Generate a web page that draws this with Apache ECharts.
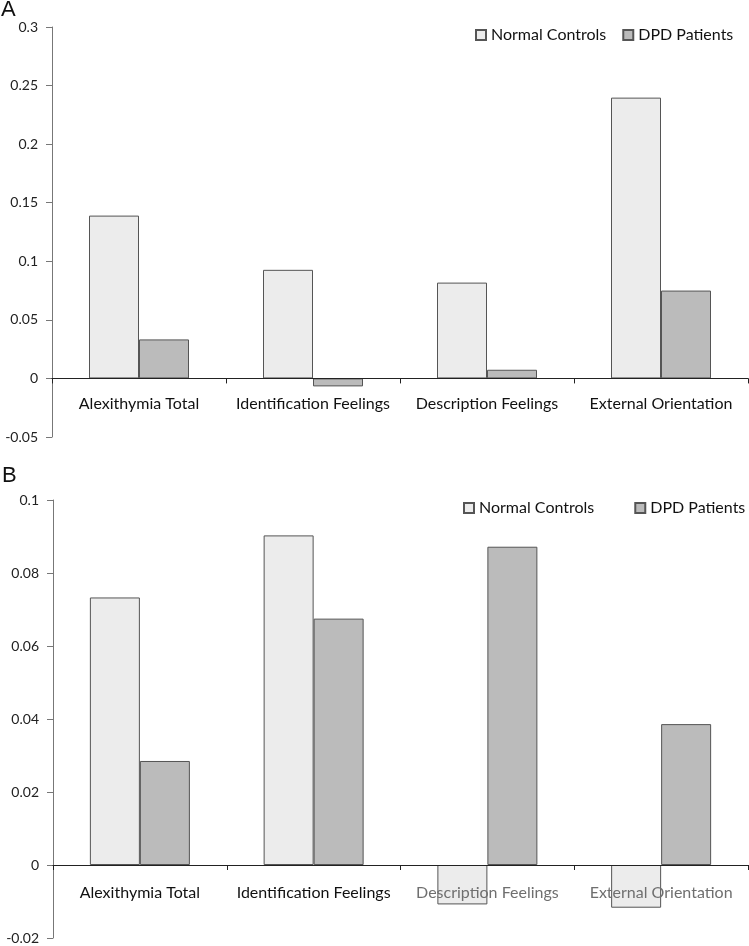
<!DOCTYPE html>
<html>
<head>
<meta charset="utf-8">
<script src="https://cdn.jsdelivr.net/npm/echarts@6/dist/echarts.min.js"></script>
<style>html,body{margin:0;padding:0;background:#fff}#c{width:749px;height:946px}</style>
</head>
<body>
<div id="c"></div>
<script>
const categories = ["Alexithymia Total", "Identification Feelings", "Description Feelings", "External Orientation"];
const seriesNames = ["Normal Controls", "DPD Patients"];
const panelA_NC = [0.139, 0.0927, 0.0818, 0.2397];
const panelA_DPD = [0.0333, -0.0068, 0.0074, 0.075];
const panelB_NC = [0.0733, 0.0903, -0.0108, -0.0117];
const panelB_DPD = [0.0285, 0.0675, 0.0872, 0.0386];
const yTicksA = { min: -0.05, max: 0.3, interval: 0.05 };
const yTicksB = { min: -0.02, max: 0.1, interval: 0.02 };
const greyLabelsB = ["Description Feelings", "External Orientation"];

const FONT = 'Lato';
const chart = echarts.init(document.getElementById('c'), null, { renderer: 'canvas' });

const gridA = { left: 52, right: 1, top: 27, height: 410 };
const gridB = { left: 53, right: 1, top: 500, height: 438 };
// offset of the x axis from grid bottom up to the zero line (pixel position of value 0)
function zeroOffset(g, t) {
  return -(g.height * (0 - t.min) / (t.max - t.min));
}

function xAxisCfg(gridIndex, offset, margin, colorFn) {
  return {
    type: 'category', gridIndex, data: categories, z: 5, position: 'bottom', offset,
    axisLine: { onZero: false, lineStyle: { color: '#222', width: 1 } },
    axisTick: { show: true, length: 5, inside: false, lineStyle: { color: '#222' } },
    axisLabel: { margin, fontFamily: FONT, fontSize: 16, color: colorFn, interval: 0 },
    splitLine: { show: false }
  };
}
function yAxisCfg(gridIndex, t) {
  return {
    type: 'value', gridIndex, min: t.min, max: t.max, interval: t.interval,
    axisLine: { show: true, lineStyle: { color: '#777', width: 1 } },
    axisTick: { show: true, length: 6, lineStyle: { color: '#777' } },
    axisLabel: { margin: 14, fontFamily: FONT, fontSize: 14, color: '#222' },
    splitLine: { show: false }
  };
}
const ncStyle = { color: '#ececec', borderColor: '#555', borderWidth: 1 };
const dpdStyle = { color: '#bbbbbb', borderColor: '#555', borderWidth: 1 };

function legendCfg(left, top, gap) {
  return {
    orient: 'horizontal', left, top, width: 330, padding: 0, icon: 'rect',
    itemWidth: 10, itemHeight: 10, itemGap: gap, data: seriesNames, selectedMode: false,
    textStyle: { fontFamily: FONT, fontSize: 16, color: '#111' }
  };
}

chart.setOption({
  animation: false,
  grid: [
    Object.assign({ outerBoundsMode: 'none', containLabel: false }, gridA),
    Object.assign({ outerBoundsMode: 'none', containLabel: false }, gridB)
  ],
  xAxis: [
    xAxisCfg(0, zeroOffset(gridA, yTicksA), 17, '#111'),
    xAxisCfg(1, zeroOffset(gridB, yTicksB), 20, function (v) { return greyLabelsB.indexOf(v) >= 0 ? '#6f6f6f' : '#111'; })
  ],
  yAxis: [yAxisCfg(0, yTicksA), yAxisCfg(1, yTicksB)],
  legend: [legendCfg(475, 27, 16), legendCfg(463, 500, 40)],
  graphic: [
    { type: 'text', left: 1, top: -1, style: { text: 'A', fontFamily: 'Liberation Sans', fontSize: 22, fill: '#111' } },
    { type: 'text', left: 2, top: 465, style: { text: 'B', fontFamily: 'Liberation Sans', fontSize: 22, fill: '#111' } }
  ],
  series: [
    { name: seriesNames[0], type: 'bar', xAxisIndex: 0, yAxisIndex: 0, data: panelA_NC, barWidth: 50, barGap: '0%', itemStyle: ncStyle },
    { name: seriesNames[1], type: 'bar', xAxisIndex: 0, yAxisIndex: 0, data: panelA_DPD, barWidth: 50, barGap: '0%', itemStyle: dpdStyle },
    { name: seriesNames[0], type: 'bar', xAxisIndex: 1, yAxisIndex: 1, data: panelB_NC, barWidth: 50, barGap: '0%', itemStyle: ncStyle },
    { name: seriesNames[1], type: 'bar', xAxisIndex: 1, yAxisIndex: 1, data: panelB_DPD, barWidth: 50, barGap: '0%', itemStyle: dpdStyle }
  ]
});
</script>
</body>
</html>
